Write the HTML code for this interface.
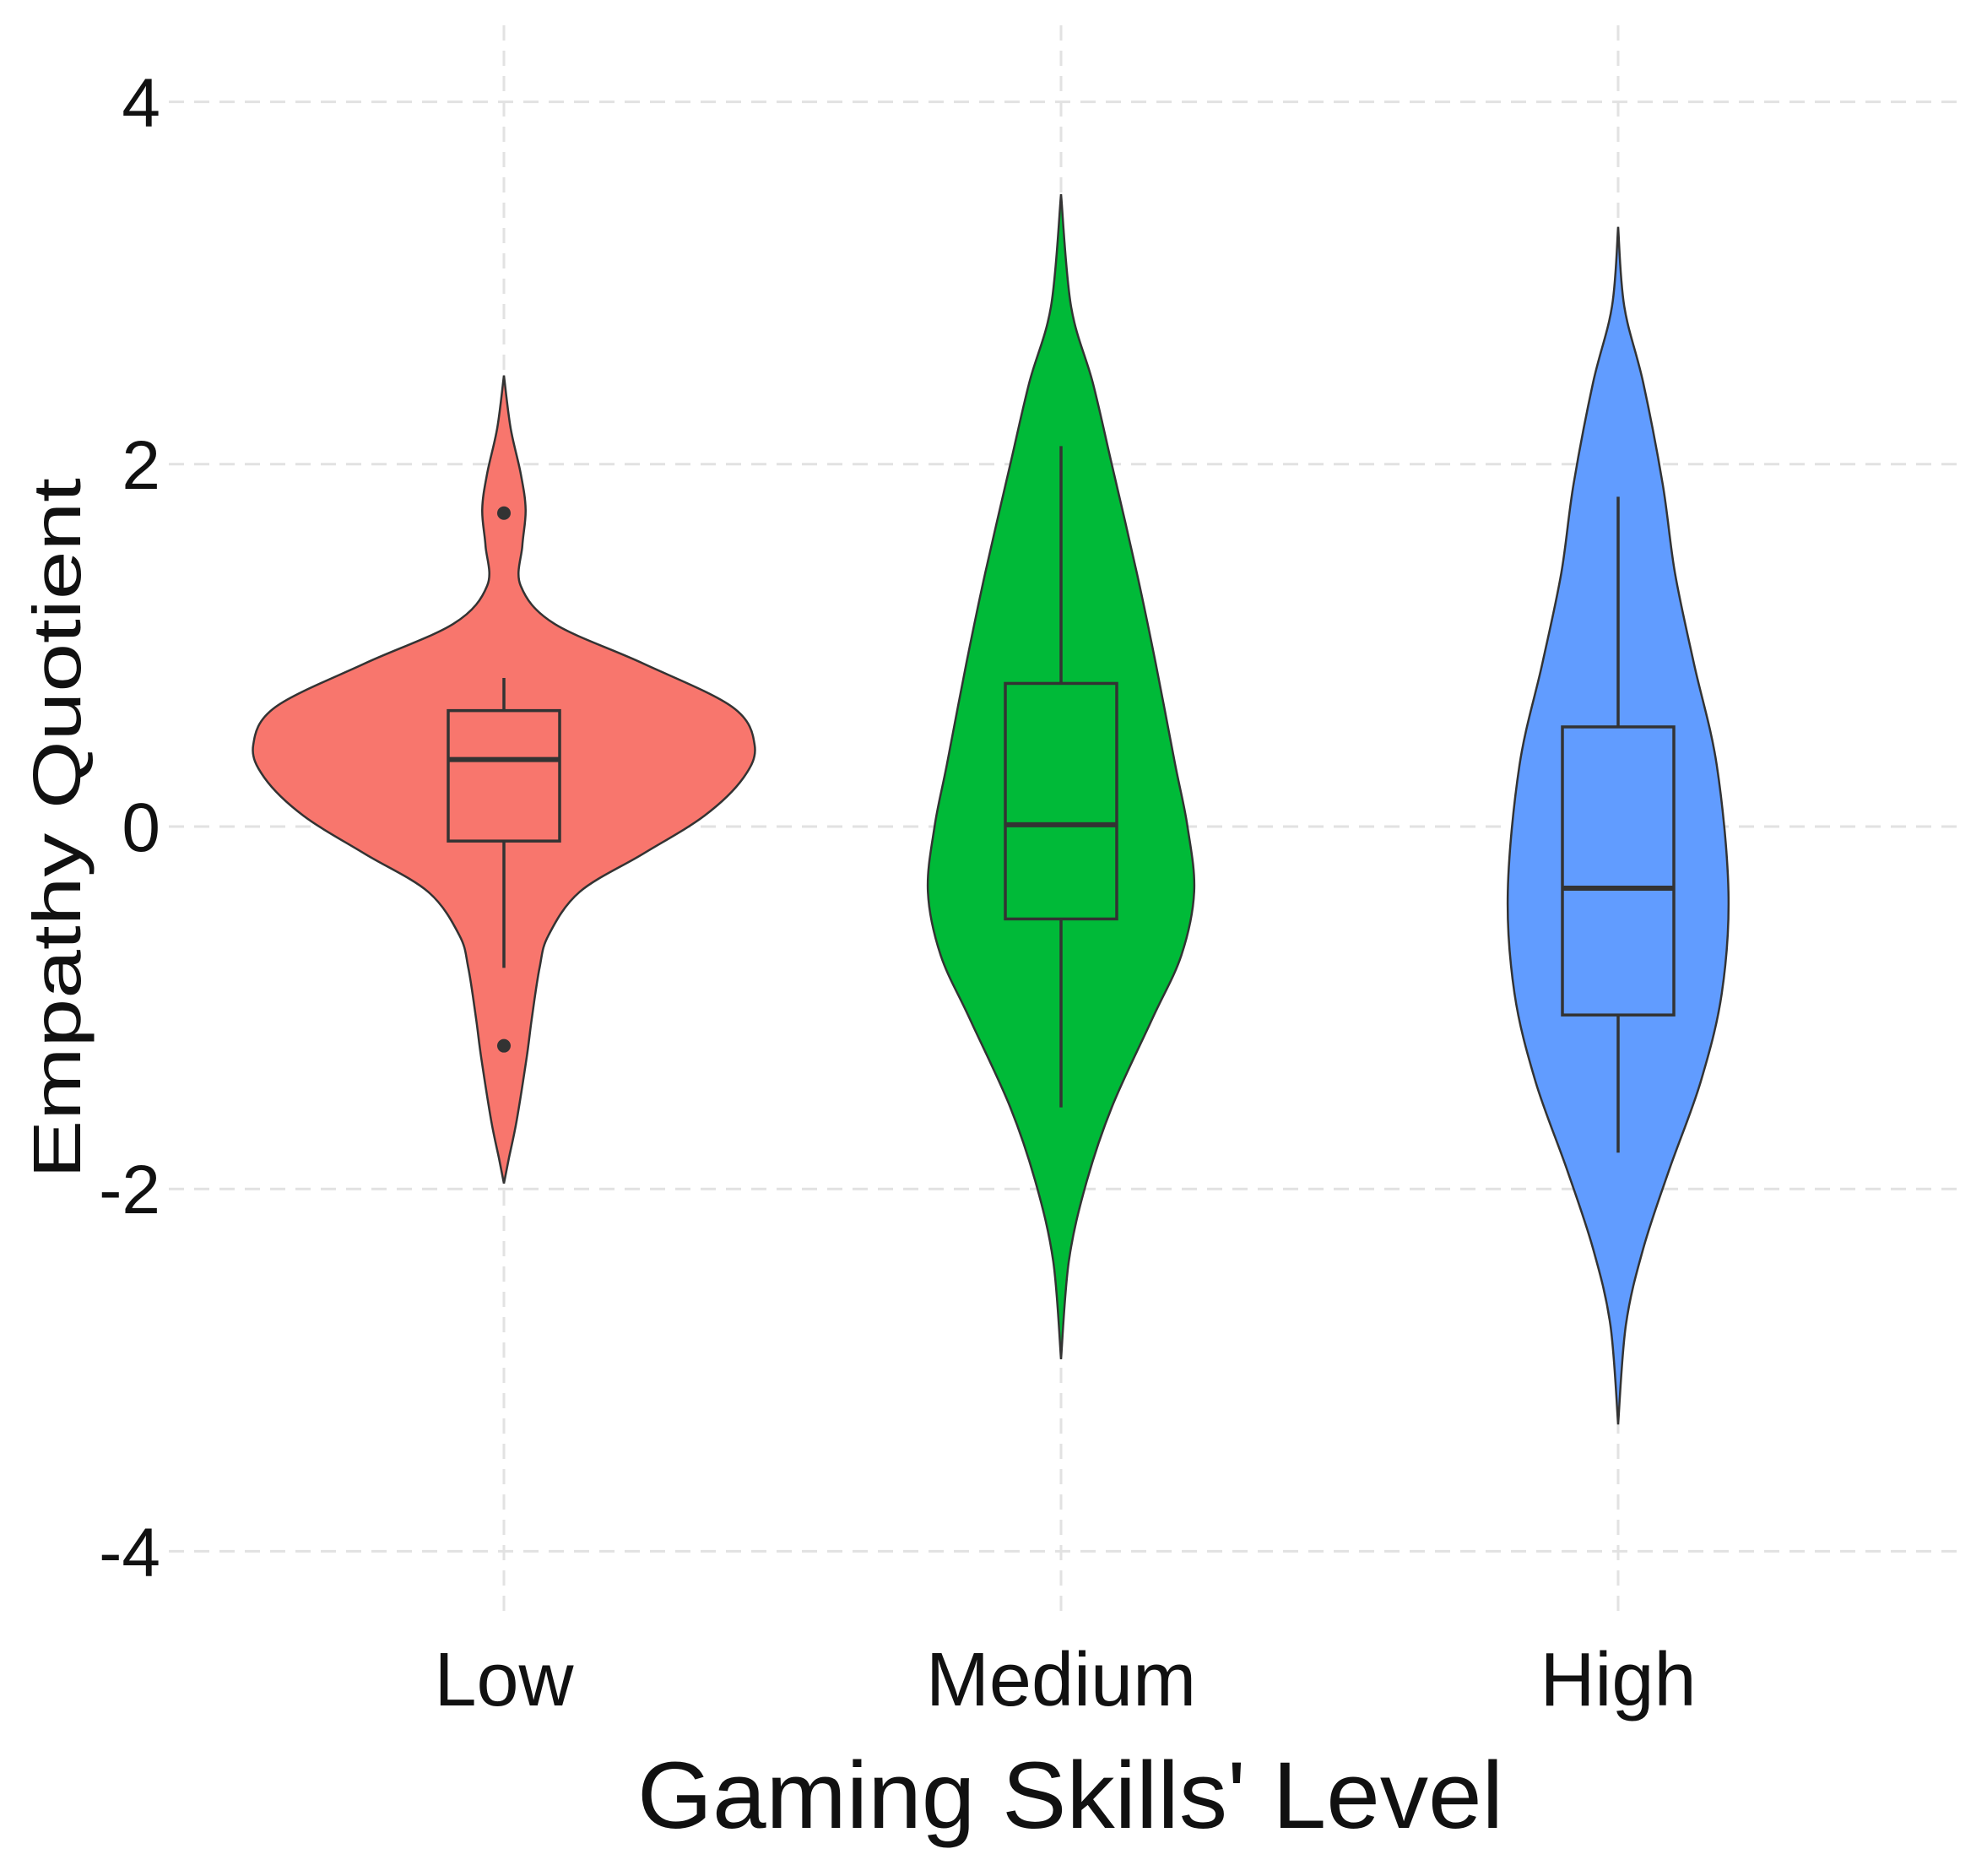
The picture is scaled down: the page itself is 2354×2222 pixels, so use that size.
<!DOCTYPE html>
<html><head><meta charset="utf-8"><style>
html,body{margin:0;padding:0;background:#fff}
svg{display:block}
text{font-family:"Liberation Sans","DejaVu Sans",sans-serif;fill:#111}
</style></head><body>
<svg id="chart" width="2354" height="2222" viewBox="0 0 2354 2222" xmlns="http://www.w3.org/2000/svg">
<g id="grid"></g>
<g id="violins"></g>
<g id="axes"></g>
<text transform="translate(95,981) rotate(-90)" text-anchor="middle" font-size="80" textLength="830" lengthAdjust="spacingAndGlyphs">Empathy Quotient</text>
<text x="1268" y="2165" text-anchor="middle" font-size="112" textLength="1026" lengthAdjust="spacingAndGlyphs">Gaming Skills' Level</text>
</svg>
<script>
const categories = ["Low","Medium","High"];
const colors = ["#F8766D","#00BA38","#619CFF"];
const yTicks = [4,2,0,-2,-4];
const yTickLabels = ["4","2","0","-2","-4"];
// violin profiles: values and half-widths (fraction of category spacing)
const lowY = [2.49,2.2,1.95,1.75,1.55,1.33,1.12,0.9,0.66,0.45,0.27,0.06,-0.15,-0.36,-0.6,-0.78,-1.06,-1.27,-1.62,-1.83,-1.97];
const lowW = [0,0.012,0.03,0.039,0.033,0.03,0.09,0.25,0.41,0.45,0.43,0.36,0.25,0.136,0.08,0.064,0.05,0.041,0.023,0.009,0];
const medY = [3.49,2.87,2.45,2.0,1.4,0.9,0.34,0,-0.36,-0.71,-1.06,-1.55,-1.97,-2.4,-2.94];
const medW = [0,0.018,0.057,0.091,0.136,0.17,0.205,0.227,0.239,0.216,0.164,0.091,0.045,0.014,0];
const highY = [3.31,2.87,2.45,1.89,1.4,0.9,0.34,-0.36,-0.92,-1.41,-1.9,-2.33,-2.75,-3.3];
const highW = [0,0.011,0.045,0.08,0.102,0.136,0.177,0.198,0.186,0.148,0.091,0.045,0.014,0];
const q1 = [-0.08,-0.51,-1.04];
const medians = [0.37,0.01,-0.34];
const q3 = [0.64,0.79,0.55];
const whiskLo = [-0.78,-1.55,-1.8];
const whiskHi = [0.82,2.1,1.82];
const outliers = [[1.73,-1.21],[],[]];

const NS="http://www.w3.org/2000/svg";
const yS = v => 979 - v*214.6;
const xS = i => 597 + i*660;
const SP = 660;
function mk(tag, attrs, parent){const e=document.createElementNS(NS,tag);for(const k in attrs)e.setAttribute(k,attrs[k]);parent.appendChild(e);return e;}
const grid=document.getElementById('grid'), vg=document.getElementById('violins'), ax=document.getElementById('axes');
yTicks.forEach((t,i)=>{
  const l=mk('line',{x1:200,x2:2320,y1:yS(t),y2:yS(t),stroke:'#e2e2e2','stroke-width':3,'stroke-dasharray':'18,12'},grid);
  
  
  const tx=mk('text',{x:190,y:yS(t)+29,'text-anchor':'end','font-size':82},ax);
  tx.textContent=yTickLabels[i];
  
  
});
categories.forEach((c,i)=>{
  const l=mk('line',{x1:xS(i),x2:xS(i),y1:30,y2:1920,stroke:'#e2e2e2','stroke-width':3,'stroke-dasharray':'18,12'},grid);
  
  
  const tx=mk('text',{x:xS(i),y:2020,'text-anchor':'middle','font-size':90},ax);
  tx.textContent=c;
  
  
});
function smooth(pts){
  let d='';
  for(let i=0;i<pts.length-1;i++){
    const p0=pts[Math.max(0,i-1)],p1=pts[i],p2=pts[i+1],p3=pts[Math.min(pts.length-1,i+2)];
    const c1=[p1[0]+(p2[0]-p0[0])/6,p1[1]+(p2[1]-p0[1])/6];
    const c2=[p2[0]-(p3[0]-p1[0])/6,p2[1]-(p3[1]-p1[1])/6];
    d+=` C${c1[0].toFixed(1)},${c1[1].toFixed(1)} ${c2[0].toFixed(1)},${c2[1].toFixed(1)} ${p2[0].toFixed(1)},${p2[1].toFixed(1)}`;
  }
  return d;
}
const profY=[lowY,medY,highY], profW=[lowW,medW,highW];
categories.forEach((c,i)=>{
  const cx=xS(i);
  const right=profY[i].map((v,k)=>[cx+profW[i][k]*SP,yS(v)]);
  const left=profY[i].map((v,k)=>[cx-profW[i][k]*SP,yS(v)]).reverse();
  const d='M'+right[0][0]+','+right[0][1]+smooth(right)+' L'+left[0][0]+','+left[0][1]+smooth(left)+' Z';
  const p=mk('path',{d:d,fill:colors[i],stroke:'#333','stroke-width':2.5},vg);
  
  
  const w=mk('line',{x1:cx,x2:cx,y1:yS(whiskHi[i]),y2:yS(whiskLo[i]),stroke:'#333','stroke-width':3.5},vg);
  
  
  const bw=66;
  const b=mk('rect',{x:cx-bw,y:yS(q3[i]),width:bw*2,height:yS(q1[i])-yS(q3[i]),fill:colors[i],stroke:'#333','stroke-width':3.5},vg);
  
  
  const m=mk('line',{x1:cx-bw,x2:cx+bw,y1:yS(medians[i]),y2:yS(medians[i]),stroke:'#333','stroke-width':6},vg);
  
  
  outliers[i].forEach(o=>{
    const ci=mk('circle',{cx:cx,cy:yS(o),r:8,fill:'#333'},vg);
    
    
  });
});
</script>
</body></html>
